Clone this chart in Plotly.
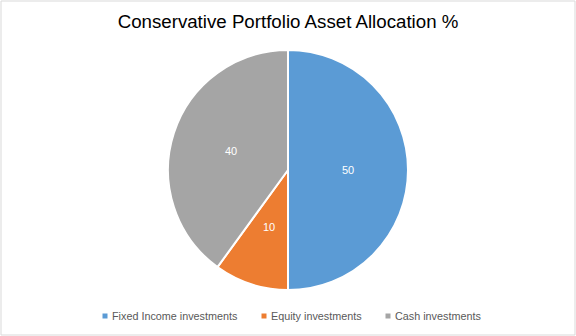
import math
import plotly.graph_objects as go

# Asset allocation of a conservative portfolio (percent)
categories = ["Fixed Income investments", "Equity investments", "Cash investments"]
values = [50, 10, 40]
colors = ["#5B9BD5", "#ED7D31", "#A5A5A5"]

W, H = 576, 336
cx, cy, r = 288, 170, 120
FONT = "Liberation Sans, Arial"

fig = go.Figure(
    go.Pie(
        labels=categories,
        values=values,
        sort=False,
        direction="clockwise",
        rotation=0,
        marker=dict(colors=colors, line=dict(color="white", width=2)),
        textinfo="none",
        domain=dict(x=[(cx - r) / W, (cx + r) / W], y=[1 - (cy + r) / H, 1 - (cy - r) / H]),
        hoverinfo="label+value",
        showlegend=False,
    )
)

annotations = []

# Value labels placed at half radius along each slice's mid-angle
total = sum(values)
cum = 0
for v in values:
    mid = (cum + v / 2) / total * 2 * math.pi  # clockwise from 12 o'clock
    cum += v
    px = cx + 0.5 * r * math.sin(mid)
    py = cy - 0.5 * r * math.cos(mid)
    annotations.append(
        dict(
            x=px / W, y=1 - py / H, xref="paper", yref="paper",
            text=str(v), showarrow=False,
            xanchor="center", yanchor="middle",
            font=dict(family=FONT, size=11, color="white"),
        )
    )

# Legend row along the bottom: small square swatch + label
legend_text_x = [110, 269, 393]
legend_y = 316
shapes = [
    dict(
        type="rect", xref="paper", yref="paper",
        x0=1 / W, x1=1 - 1 / W, y0=1 / H, y1=1 - 1 / H,
        line=dict(color="#D9D9D9", width=1),
    )
]
for name, col, tx in zip(categories, colors, legend_text_x):
    shapes.append(
        dict(
            type="rect", xref="paper", yref="paper",
            x0=(tx - 7.5) / W, x1=(tx - 2.5) / W,
            y0=1 - (legend_y + 2.5) / H, y1=1 - (legend_y - 2.5) / H,
            fillcolor=col, line=dict(width=0),
        )
    )
    annotations.append(
        dict(
            x=tx / W, y=1 - legend_y / H, xref="paper", yref="paper",
            text=name, showarrow=False,
            xanchor="left", yanchor="middle",
            font=dict(family=FONT, size=10.8, color="#595959"),
        )
    )

fig.update_layout(
    width=W,
    height=H,
    margin=dict(l=0, r=0, t=0, b=0),
    paper_bgcolor="white",
    plot_bgcolor="white",
    title=dict(
        text="Conservative Portfolio Asset Allocation %",
        x=0.5,
        xanchor="center",
        y=1 - 21 / H,
        yanchor="middle",
        font=dict(family=FONT, size=18.7, color="#000000"),
    ),
    showlegend=False,
    shapes=shapes,
    annotations=annotations,
)

fig.write_html("out.html")
